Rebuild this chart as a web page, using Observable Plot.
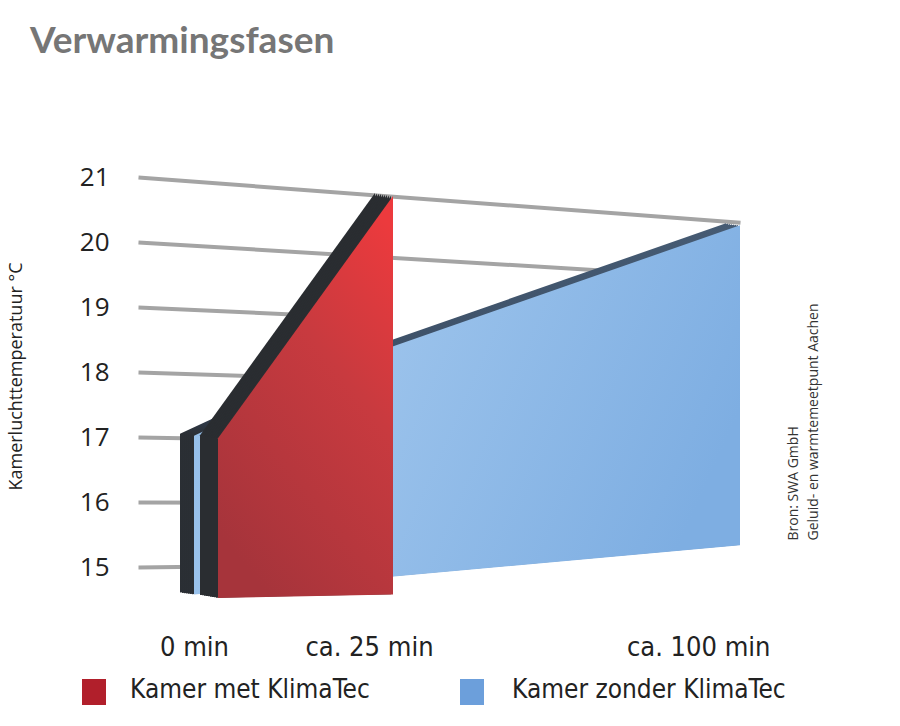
<!DOCTYPE html>
<html>
<head>
<meta charset="utf-8">
<script src="https://cdn.jsdelivr.net/npm/d3@7"></script>
<script src="https://cdn.jsdelivr.net/npm/@observablehq/plot@0.6"></script>
<style>
  body { margin: 0; background: #fff; width: 900px; height: 726px; overflow: hidden; }
  #title { height: 80px; position: relative; }
  #title span { position: absolute; left: 30px; top: 16px; font: 700 37px Lato, "Open Sans", sans-serif; color: #767676; white-space: nowrap; }
  #chart svg { display: block; }
  #legend { height: 56px; position: relative; font-family: "Liberation Sans Narrow", "DejaVu Sans Condensed", "Roboto Condensed", sans-serif; font-stretch: condensed; font-size: 26px; color: #222; }
  #legend .sw { position: absolute; top: 9px; width: 24px; height: 26px; }
  #legend .lab { position: absolute; top: 4px; line-height: 30px; white-space: nowrap; }
</style>
</head>
<body>
<div id="title"><span>Verwarmingsfasen</span></div>
<div id="chart"></div>
<div id="legend"></div>
<script>
// ---- data ----
const timesMin = [0, 25, 100];
const timeLabels = ["0 min", "ca. 25 min", "ca. 100 min"];
const withKlimaTec = [17, 21];          // °C at 0 and ca. 25 min
const withoutKlimaTec = [17, 18.3, 21]; // °C at 0, ca. 25 and ca. 100 min
const yTicks = [15, 16, 17, 18, 19, 20, 21];
const seriesNames = ["Kamer met KlimaTec", "Kamer zonder KlimaTec"];
const seriesColors = ["#b11f2b", "#6c9fdb"];
const yLabel = "Kamerluchttemperatuur °C";
const sourceLines = ["Bron: SWA GmbH", "Geluid- en warmtemeetpunt Aachen"];

// ---- style / perspective settings ----
const narrow = "'Liberation Sans Narrow', 'DejaVu Sans Condensed', 'Roboto Condensed', sans-serif";
const xRange = [194, 369, 740];
const yFloor = 14.5;            // floor of the 3D scene
const gridStartMin = -8;        // gridlines start left of 0 min
const fullWidthGridFrom = 20;   // lower gridlines disappear behind the rooms
const redDx = 24;               // red face sits in front
const gridModel = {vp: 15.85, depth: 4441, x0: 140};
const blueModel = {vp: 17.94, depth: 2469, x0: 140};

const xs = Plot.scale({x: {type: "linear", domain: timesMin, range: xRange}});
function project(t, v, dx, m) {
  const px = xs.apply(t) + dx;
  const f = 1 - (px - m.x0) / m.depth;
  return m.vp + (v - m.vp) * f;
}

const yTop = yTicks[yTicks.length - 1];
const gridRows = yTicks.map(v => {
  const tEnd = v >= yTop ? timesMin[2]
    : v >= fullWidthGridFrom ? timesMin[2] - 5   // ends hidden behind the blue face
    : timesMin[1];                               // ends hidden behind the red face
  return {x1: gridStartMin, y1: v, x2: tEnd, y2: project(tEnd, v, 0, gridModel)};
});
const redRows = withKlimaTec.map((v, i) => ({
  t: timesMin[i],
  top: project(timesMin[i], v, redDx, gridModel),
  base: project(timesMin[i], yFloor, redDx, gridModel)
}));
const blueRows = withoutKlimaTec.map((v, i) => ({
  t: timesMin[i],
  top: project(timesMin[i], v, 0, blueModel),
  base: project(timesMin[i], yFloor, 0, blueModel)
}));

function gradientDefs() {
  const ns = "http://www.w3.org/2000/svg";
  const defs = document.createElementNS(ns, "defs");
  const mk = (id, x1, y1, x2, y2, stops) => {
    const g = document.createElementNS(ns, "linearGradient");
    g.setAttribute("id", id);
    g.setAttribute("x1", x1); g.setAttribute("y1", y1);
    g.setAttribute("x2", x2); g.setAttribute("y2", y2);
    for (const [o, c] of stops) {
      const s = document.createElementNS(ns, "stop");
      s.setAttribute("offset", o); s.setAttribute("stop-color", c);
      g.appendChild(s);
    }
    defs.appendChild(g);
  };
  mk("redFace", 0.85, 0, 0.3, 1, [[0, "#ec3a3d"], [0.4, "#c83a3f"], [1, "#a6343b"]]);
  mk("blueFace", 0, 0.2, 1, 0.5, [[0, "#92bde9"], [0.3, "#9dc4ec"], [1, "#7eaee2"]]);
  mk("blueSide", 0, 0, 1, 0, [[0, "#2a2e33"], [0.04, "#2e3744"], [0.2, "#3c4f66"], [1, "#465b73"]]);
  return defs;
}

// extrusion: sweep of copies between the face and its shifted back edge
const sweep = (rows, fill, dx0, ddx, ddy, n) =>
  d3.range(n, 0, -1).map(k =>
    Plot.areaY(rows, {x: "t", y1: "base", y2: "top", fill, dx: dx0 + ddx * k / n, dy: ddy * k / n}));

const chart = Plot.plot({
  width: 900,
  height: 590,
  marginLeft: 118,
  marginTop: 0,
  marginRight: 0,
  marginBottom: 0,
  style: {fontFamily: "'Open Sans', sans-serif", fontSize: "26px", color: "#222", background: "transparent", overflow: "visible"},
  x: {type: "linear", domain: timesMin, range: xRange, axis: null},
  y: {domain: [yTicks[0], yTop], range: [487, 97], ticks: yTicks, tickFormat: "d", tickSize: 0, tickPadding: 9, label: null},
  marks: [
    gradientDefs,
    Plot.link(gridRows, {x1: "x1", y1: "y1", x2: "x2", y2: "y2", stroke: "#a4a4a4", strokeWidth: 4}),
    // blue room: side then face
    ...sweep(blueRows, "url(#blueSide)", 0, -14, -2, 7),
    Plot.areaY(blueRows, {x: "t", y1: "base", y2: "top", fill: "url(#blueFace)"}),
    // red room: side then face
    ...sweep(redRows, "#2a2d31", redDx, -18, -3, 9),
    Plot.areaY(redRows, {x: "t", y1: "base", y2: "top", fill: "url(#redFace)", dx: redDx}),
    // time labels
    Plot.text(timeLabels.slice(0, 2), {x: (d, i) => timesMin[i], text: d => d, frameAnchor: "bottom", dy: -15, fontSize: 27, fontFamily: narrow, fill: "#222"}),
    Plot.text([timeLabels[2]], {x: [timesMin[2]], text: d => d, frameAnchor: "bottom", dy: -15, dx: 30, textAnchor: "end", fontSize: 27, fontFamily: narrow, fill: "#222"}),
    // y axis title
    Plot.text([yLabel], {frameAnchor: "left", y: [d3.mean(yTicks)], text: d => d, rotate: -90, textAnchor: "middle", dx: -102, dy: 4, fontSize: 18, fill: "#222"}),
    // source
    Plot.text([sourceLines.join("\n")], {x: [timesMin[2]], y: [yTicks[0]], text: d => d, dx: 61, dy: -27, rotate: -90, textAnchor: "start", lineAnchor: "middle", lineHeight: 1.4, fontSize: 14, fill: "#333"})
  ]
});
document.getElementById("chart").appendChild(chart);

// legend
const legend = document.getElementById("legend");
const legendPos = [[82, 130], [460, 512]];
seriesNames.forEach((name, i) => {
  const sw = document.createElement("div");
  sw.className = "sw";
  sw.style.left = legendPos[i][0] + "px";
  sw.style.background = seriesColors[i];
  const lab = document.createElement("div");
  lab.className = "lab";
  lab.style.left = legendPos[i][1] + "px";
  lab.textContent = name;
  legend.appendChild(sw);
  legend.appendChild(lab);
});
</script>
</body>
</html>
